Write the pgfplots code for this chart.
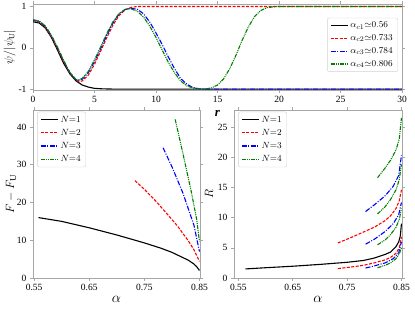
\documentclass[border=0pt]{standalone}
\usepackage{pgfplots}
\pgfplotsset{compat=1.18}
\usepackage{fontspec}
\setmainfont{Liberation Serif}
\definecolor{mgreen}{rgb}{0,0.5,0}
\pgfplotsset{
  every axis/.append style={
    scale only axis,
    axis line style={gray!70},
    tick align=outside,
    major tick length=3pt,
    tick style={gray!70, line width=0.5pt},
    every tick label/.append style={font=\fontsize{9.5}{10}\selectfont},
    /pgf/number format/assume math mode=true,
    legend cell align=left,
    legend style={draw=gray!35, rounded corners=2pt, font=\fontsize{9.5}{11}\selectfont, inner xsep=3pt, inner ysep=2pt, row sep=1.5pt},
  },
  s1/.style={black, line width=1.1pt},
  s2/.style={red, line width=1.1pt, dash pattern=on 3pt off 1.5pt},
  s3/.style={blue, line width=1.1pt, dash pattern=on 5pt off 1.5pt on 1pt off 1.5pt},
  s4/.style={mgreen, line width=1.1pt, dash pattern=on 4pt off 1pt on 1pt off 1pt on 1pt off 1pt},
}
\begin{document}
\begin{tikzpicture}
\useasboundingbox (0pt,0pt) rectangle (415pt,309pt);
% ---------- top ----------
\begin{axis}[at={(33pt,219pt)}, anchor=south west, width=369pt, height=86pt,
  xmin=0, xmax=30, ymin=-1.02, ymax=1.06,
  xtick={0,5,...,30}, ytick={-1,0,1},
  xlabel={\textbf{\textit{r}}}, xlabel style={font=\fontsize{13}{14}\selectfont, yshift=-1pt},
  ylabel={$\psi/|\psi_{\mathrm{U}}|$}, ylabel style={font=\fontsize{12}{13}\selectfont, yshift=-4pt},
  legend style={at={(0.989,0.84)}, anchor=north east}]
\addplot[s1] coordinates {(0,0.63)(0.5,0.6)(1,0.48)(1.5,0.25)(2,-0.06)(2.5,-0.38)(3,-0.63)(3.5,-0.8)(4,-0.9)(4.5,-0.95)(5,-0.98)(5.5,-0.99)(6,-0.995)(7,-1)(30,-1)};
\addlegendentry{$\alpha_{c1}{\simeq}0.56$}
\addplot[s2] coordinates {(0,0.66)(0.5,0.63)(1,0.5)(1.5,0.27)(2,-0.02)(2.5,-0.33)(3,-0.6)(3.5,-0.78)(3.75,-0.82)(4,-0.8)(4.5,-0.66)(5,-0.4)(5.5,-0.08)(6,0.25)(6.5,0.55)(7,0.78)(7.5,0.92)(8,0.98)(8.5,1.0)(30,1.0)};
\addlegendentry{$\alpha_{c2}{\simeq}0.733$}
\addplot[s3] coordinates {(0,0.67)(0.5,0.64)(1,0.52)(1.5,0.29)(2,0.0)(2.5,-0.32)(3,-0.6)(3.5,-0.77)(3.7,-0.79)(4,-0.76)(4.5,-0.6)(5,-0.33)(5.5,-0.02)(6,0.3)(6.5,0.6)(7,0.82)(7.5,0.93)(8,0.955)(8.5,0.93)(9,0.82)(9.5,0.62)(10,0.36)(10.5,0.08)(11,-0.22)(11.5,-0.5)(12,-0.74)(12.5,-0.88)(13,-0.96)(13.5,-0.99)(14,-1)(30,-1)};
\addlegendentry{$\alpha_{c3}{\simeq}0.784$}
\addplot[s4] coordinates {(0,0.68)(0.5,0.65)(1,0.53)(1.5,0.3)(2,0.01)(2.5,-0.31)(3,-0.6)(3.5,-0.77)(3.6,-0.78)(4,-0.74)(4.5,-0.57)(5,-0.29)(5.5,0.02)(6,0.35)(6.5,0.63)(7,0.83)(7.5,0.93)(7.8,0.945)(8,0.94)(8.5,0.88)(9,0.74)(9.5,0.52)(10,0.25)(10.5,-0.05)(11,-0.35)(11.5,-0.6)(12,-0.8)(12.5,-0.92)(13,-0.97)(13.5,-0.99)(14,-0.995)(14.5,-0.97)(15,-0.9)(15.5,-0.75)(16,-0.5)(16.5,-0.18)(17,0.18)(17.5,0.5)(18,0.75)(18.5,0.9)(19,0.97)(19.5,0.99)(20,1)(30,1)};
\addlegendentry{$\alpha_{c4}{\simeq}0.806$}
\end{axis}
% ---------- bottom left ----------
\begin{axis}[at={(33pt,31pt)}, anchor=south west, width=167pt, height=168pt,
  xmin=0.548, xmax=0.851, ymin=0, ymax=44.5,
  xtick={0.55,0.65,0.75,0.85}, xticklabels={0.55,0.65,0.75,0.85},
  ytick={0,10,...,40},
  xlabel={$\alpha$}, xlabel style={font=\fontsize{14}{15}\selectfont, yshift=2pt},
  ylabel={$F-F_{\mathrm{U}}$}, ylabel style={font=\fontsize{13}{14}\selectfont, yshift=-6pt},
  legend style={at={(0.025,0.99)}, anchor=north west}]
\addplot[s1] coordinates {(0.558,16.0)(0.6,15.0)(0.65,13.3)(0.7,11.4)(0.75,9.3)(0.78,7.9)(0.8,6.8)(0.82,5.4)(0.83,4.7)(0.84,3.7)(0.845,3.0)(0.85,2.0)};
\addlegendentry{$N{=}1$}
\addplot[s2] coordinates {(0.733,25.8)(0.75,23.5)(0.77,20.5)(0.79,17.2)(0.81,13.8)(0.83,9.8)(0.84,7.5)(0.85,4.4)};
\addlegendentry{$N{=}2$}
\addplot[s3] coordinates {(0.784,34.5)(0.8,29.5)(0.82,22.5)(0.84,14.0)(0.85,7.0)};
\addlegendentry{$N{=}3$}
\addplot[s4] coordinates {(0.806,42.0)(0.82,33.0)(0.835,23.0)(0.845,15.5)(0.85,9.7)};
\addlegendentry{$N{=}4$}
\end{axis}
% ---------- bottom right ----------
\begin{axis}[at={(234pt,31pt)}, anchor=south west, width=168pt, height=168pt,
  xmin=0.542, xmax=0.851, ymin=0, ymax=27.8,
  xtick={0.55,0.65,0.75,0.85}, xticklabels={0.55,0.65,0.75,0.85},
  ytick={0,5,...,25},
  xlabel={$\alpha$}, xlabel style={font=\fontsize{14}{15}\selectfont, yshift=2pt},
  ylabel={$R$}, ylabel style={font=\fontsize{13}{14}\selectfont, yshift=-2pt},
  legend style={at={(0.025,0.99)}, anchor=north west}]
\addplot[s1] coordinates {(0.563,1.5)(0.6,1.7)(0.65,1.95)(0.7,2.25)(0.75,2.6)(0.78,2.9)(0.8,3.3)(0.82,3.9)(0.83,4.3)(0.84,5.2)(0.845,6.0)(0.848,7.0)(0.85,9.0)};
\addlegendentry{$N{=}1$}
\addplot[s2] coordinates {(0.733,5.8)(0.76,6.8)(0.78,7.6)(0.8,8.4)(0.82,9.5)(0.83,10.3)(0.84,11.5)(0.846,12.8)(0.85,14.6)};
\addlegendentry{$N{=}2$}
\addplot[s3] coordinates {(0.784,11.0)(0.8,12.1)(0.82,13.6)(0.835,15.2)(0.845,17.0)(0.85,20.3)};
\addlegendentry{$N{=}3$}
\addplot[s4] coordinates {(0.806,16.6)(0.82,18.2)(0.83,19.5)(0.84,21.2)(0.846,23.0)(0.85,26.5)};
\addlegendentry{$N{=}4$}
\addplot[s2, forget plot] coordinates {(0.733,1.55)(0.76,1.85)(0.78,2.1)(0.8,2.5)(0.82,3.0)(0.83,3.4)(0.84,4.1)(0.846,5.0)(0.85,6.8)};
\addplot[s3, forget plot] coordinates {(0.784,5.6)(0.8,6.4)(0.82,7.7)(0.835,9.0)(0.845,10.5)(0.85,12.5)};
\addplot[s3, forget plot] coordinates {(0.784,1.65)(0.8,2.0)(0.82,2.5)(0.835,3.2)(0.845,4.2)(0.85,6.0)};
\addplot[s4, forget plot] coordinates {(0.806,10.6)(0.82,11.8)(0.83,13.0)(0.84,14.6)(0.846,16.3)(0.85,18.8)};
\addplot[s4, forget plot] coordinates {(0.806,5.5)(0.82,6.3)(0.83,7.2)(0.84,8.4)(0.846,9.7)(0.85,11.5)};
\addplot[s4, forget plot] coordinates {(0.806,1.7)(0.82,2.1)(0.83,2.5)(0.84,3.2)(0.846,4.0)(0.85,5.0)};
\end{axis}
\end{tikzpicture}
\end{document}
